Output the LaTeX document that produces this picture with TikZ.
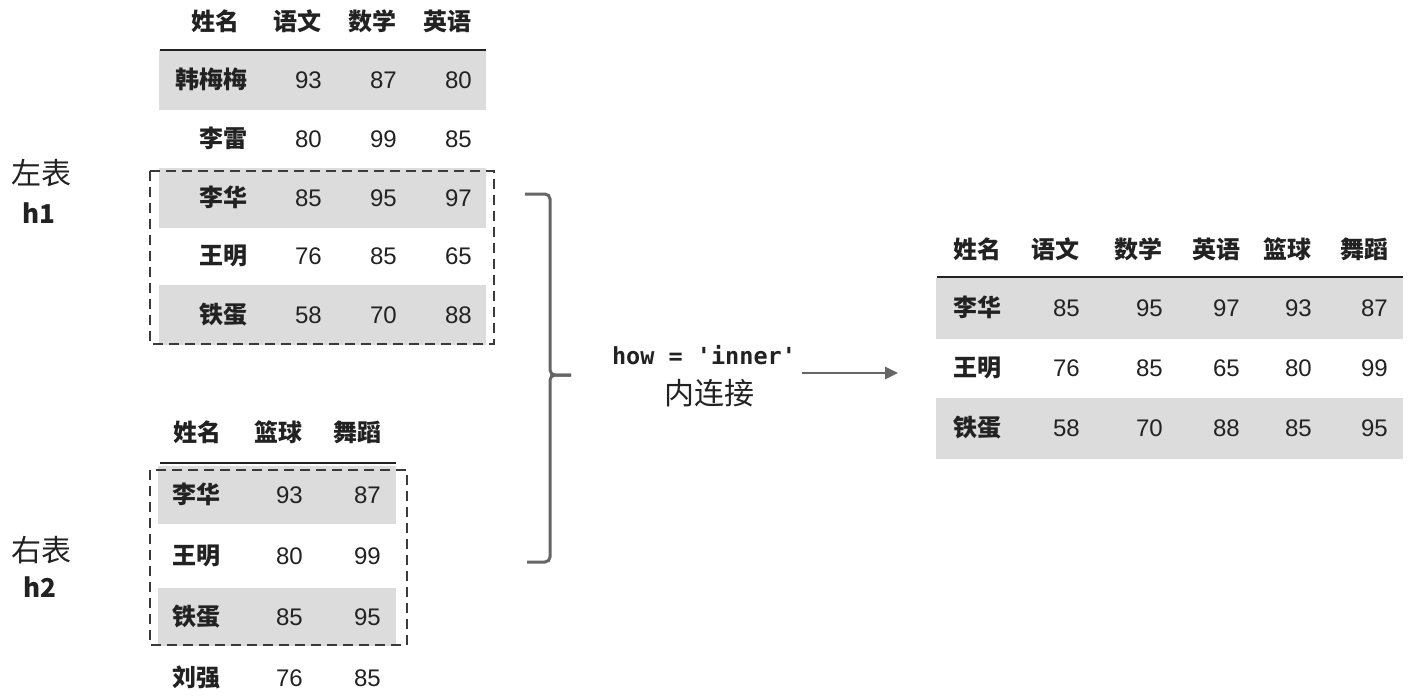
\documentclass[tikz,border=0pt]{standalone}
\usepackage{fontspec}
\setmainfont{Liberation Sans}
\newfontfamily\cjk{Noto Sans CJK SC}
\newfontfamily\mono{DejaVu Sans Mono}
\usetikzlibrary{arrows.meta,fit}
\definecolor{txt}{HTML}{222222}
\definecolor{rowgray}{HTML}{DCDCDC}
\definecolor{boxgray}{HTML}{3A3A3A}
\definecolor{linegray}{HTML}{666666}

\begin{document}
\begin{tikzpicture}[x=1pt,y=-1pt,
  every node/.style={inner sep=0pt,text=txt},
  num/.style={anchor=base east,yshift=-8.6pt,font=\fontsize{24}{24}\selectfont},
  hd/.style={num,font=\cjk\bfseries\fontsize{24}{24}\selectfont},
  rowfill/.style={fill=rowgray},
  rule/.style={draw=txt,line width=2.4pt},
  dashbox/.style={draw=boxgray,line width=2.3pt,dash pattern=on 10pt off 6pt},
  brk/.style={draw=linegray,line width=3pt,rounded corners=5pt},
  side/.style={font=\cjk\fontsize{30}{30}\selectfont},
  tag/.style={font=\cjk\bfseries\fontsize{26}{26}\selectfont},
  arr/.style={-{Triangle[length=13pt,width=12pt]},draw=linegray,line width=2.8pt}]

\fill[white] (0,0) rectangle (1408,699);
\useasboundingbox (0,0) rectangle (1408,699);

% h1
\foreach \y in {80,197.5,315} \fill[rowfill] (159,\y-30) rectangle (486,\y+30);
\draw[rule] (160,50) -- (486,50);
\foreach \h/\x [count=\j] in {姓名/240,语文/322,数学/397,英语/472}
  \node[hd] (h1-h\j) at (\x,22) {\h};
\foreach \n/\a/\b/\c [count=\i] in {韩梅梅/93/87/80,李雷/80/99/85,李华/85/95/97,王明/76/85/65,铁蛋/58/70/88}{
  \node[hd] (h1-n\i) at (248,{80+58.75*(\i-1)}) {\n};
  \foreach \v/\x [count=\k] in {\a/322,\b/397,\c/472}
    \node[num] (h1-\i-\k) at (\x,{80+58.75*(\i-1)}) {\v};
}
\draw[dashbox] (150,171) rectangle (494,344);
\node[side] (left) at (41,173) {左表};
\node[tag] (h1tag) at (39,213) {h1};

% h2
\foreach \y in {495,617} \fill[rowfill] (158,\y-29) rectangle (396,\y+29);
\draw[rule] (160,463) -- (396,463);
\foreach \h/\x [count=\j] in {姓名/222,篮球/303,舞蹈/382}
  \node[hd] (h2-h\j) at (\x,433) {\h};
\foreach \n/\a/\b [count=\i] in {李华/93/87,王明/80/99,铁蛋/85/95,刘强/76/85}{
  \node[hd,anchor=base west] (h2-n\i) at (172,{495+61*(\i-1)}) {\n};
  \foreach \v/\x [count=\k] in {\a/303,\b/381}
    \node[num] (h2-\i-\k) at (\x,{495+61*(\i-1)}) {\v};
}
\draw[dashbox] (150,470) rectangle (407,645);
\node[side] (right) at (41,550) {右表};
\node[tag] (h2tag) at (40,587) {h2};

% brace
\draw[brk] (525,194) -- (550,194) -- (550,375) -- (571,375);
\draw[brk] (571,375) -- (550,375) -- (550,562) -- (527,562);

% how
\node[font=\mono\bfseries\fontsize{23.5}{24}\selectfont] (how) at (704,355) {how = 'inner'};
\node[side] (inner) at (709,393) {内连接};
\node[fit=(how)(inner),inner sep=6pt] (op) {};
\coordinate (res) at (898,373);
\draw[arr] (op.east |- res) -- (res);

% result
\foreach \y in {308,428} \fill[rowfill] (936,\y-30) rectangle (1403,\y+31);
\draw[rule] (937,277) -- (1403,277);
\foreach \h/\x [count=\j] in {姓名/1002,语文/1080,数学/1163,英语/1241,篮球/1312,舞蹈/1389}
  \node[hd] (r-h\j) at (\x,250) {\h};
\foreach \n/\a/\b/\c/\d/\e [count=\i] in {李华/85/95/97/93/87,王明/76/85/65/80/99,铁蛋/58/70/88/85/95}{
  \node[hd] (r-n\i) at (1002,{308+60*(\i-1)}) {\n};
  \foreach \v/\x [count=\k] in {\a/1080,\b/1163,\c/1240,\d/1312,\e/1388}
    \node[num] (r-\i-\k) at (\x,{308+60*(\i-1)}) {\v};
}
\end{tikzpicture}
\end{document}
